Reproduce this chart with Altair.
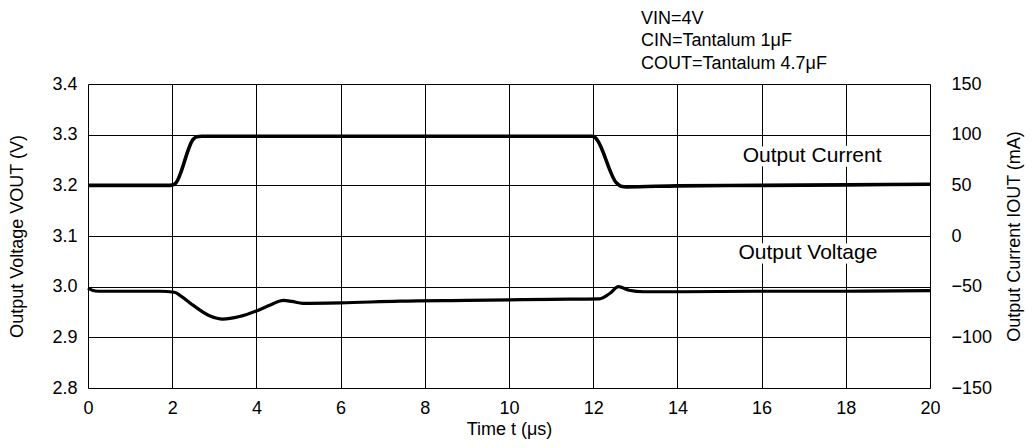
import altair as alt
import pandas as pd

# ---- data ----
t_cur = [0, 1.95, 2.02, 2.08, 2.5, 2.58, 2.7, 3.0, 6, 10, 11.97, 12.04, 12.1, 12.55, 12.66, 12.8, 14, 16, 18, 20]
i_cur = [50, 50, 50.5, 52, 95.5, 98, 98.5, 98.5, 98.5, 98.5, 98.5, 97.5, 94.5, 52.5, 49.2, 48.5, 49.5, 50, 50.5, 51]

t_volt = [0, 0.1, 0.25, 1.7, 2.05, 2.2, 2.5, 2.9, 3.2, 3.6, 4.0, 4.36, 4.64, 4.84, 5.1, 6.0, 7.4, 9, 11,
          12.15, 12.4, 12.6, 12.85, 13.2, 14, 16, 18, 20]
v_volt = [2.997, 2.993, 2.991, 2.991, 2.989, 2.982, 2.963, 2.942, 2.936, 2.941, 2.952, 2.965, 2.973, 2.971,
          2.967, 2.968, 2.9715, 2.973, 2.975, 2.976, 2.987, 3.000, 2.993, 2.990, 2.990, 2.991, 2.991, 2.992]

x_ticks = [0, 2, 4, 6, 8, 10, 12, 14, 16, 18, 20]
v_ticks = [2.8, 2.9, 3.0, 3.1, 3.2, 3.3, 3.4]
i_ticks = [-150, -100, -50, 0, 50, 100, 150]

label_text = ["Output Current", "Output Voltage"]
label_t = [17.2, 17.1]
label_v = [3.257, 3.067]

cond_lines = ["VIN=4V", "CIN=Tantalum 1\u03bcF", "COUT=Tantalum 4.7\u03bcF"]
cond_y = [-65, -43, -20]

FONT = "Liberation Sans"
TICK = 18
TITLE = 18

cur_df = pd.DataFrame({"t": t_cur, "i": i_cur})
volt_df = pd.DataFrame({"t": t_volt, "v": v_volt})
lab_df = pd.DataFrame({"t": label_t, "v": label_v, "txt": label_text})
cond_df = pd.DataFrame({"txt": cond_lines, "py": cond_y})

x_enc = alt.X("t:Q", scale=alt.Scale(domain=[0, 20], nice=False),
              axis=alt.Axis(values=x_ticks, title="Time t (\u03bcs)", grid=True, gridColor="black",
                            gridWidth=1, gridOpacity=1, ticks=False, tickSize=0, domain=False,
                            labelPadding=11, titlePadding=3, labelFontSize=TICK, titleFontSize=TITLE,
                            labelFont=FONT, titleFont=FONT, labelColor="black", titleColor="black",
                            titleFontWeight="normal", labelFlush=False))

v_scale = alt.Scale(domain=[2.8, 3.4], nice=False, zero=False)

volt_line = alt.Chart(volt_df).mark_line(color="black", strokeWidth=3.2, interpolate="monotone").encode(
    x=x_enc,
    y=alt.Y("v:Q", scale=v_scale,
            axis=alt.Axis(values=v_ticks, format=".1f", orient="left", title="Output Voltage VOUT (V)",
                          grid=True, gridColor="black", gridWidth=1, gridOpacity=1, ticks=False,
                          tickSize=0, domain=False, labelPadding=11, titlePadding=25,
                          labelFontSize=TICK, titleFontSize=TITLE, labelFont=FONT, titleFont=FONT,
                          labelColor="black", titleColor="black", titleFontWeight="normal",
                          labelFlush=False)),
)

halo = alt.Chart(lab_df).mark_text(fontSize=21, font=FONT, color="white", stroke="white",
                                   strokeWidth=9).encode(
    x=alt.X("t:Q"), y=alt.Y("v:Q", scale=v_scale), text="txt:N")
labels = alt.Chart(lab_df).mark_text(fontSize=21, font=FONT, color="black").encode(
    x=alt.X("t:Q"), y=alt.Y("v:Q", scale=v_scale), text="txt:N")

cond = alt.Chart(cond_df).mark_text(fontSize=18, font=FONT, color="black", align="left",
                                    baseline="middle").encode(
    x=alt.value(553), y=alt.Y("py:Q", scale=None), text="txt:N")

cur_line = alt.Chart(cur_df).mark_line(color="black", strokeWidth=3.6, interpolate="monotone").encode(
    x=alt.X("t:Q"),
    y=alt.Y("i:Q", scale=alt.Scale(domain=[-150, 150], nice=False),
            axis=alt.Axis(values=i_ticks, orient="right", title="Output Current IOUT (mA)", grid=False,
                          ticks=False, tickSize=0, domain=False, labelPadding=21, titlePadding=14,
                          labelFontSize=TICK, titleFontSize=TITLE, labelFont=FONT, titleFont=FONT,
                          labelColor="black", titleColor="black", titleFontWeight="normal",
                          titleAngle=270, titleBaseline="top", labelFlush=False)),
)

left = alt.layer(volt_line, halo, labels, cond)
chart = alt.layer(left, cur_line).resolve_scale(y="independent").properties(
    width=842, height=304,
    autosize=alt.AutoSizeParams(type="none"),
    padding={"left": 80, "top": 76, "right": 95, "bottom": 52},
).configure_view(stroke="black", strokeWidth=1.5).configure(background="white")

chart.save("out.html", embed_options={"renderer": "svg", "actions": False})
